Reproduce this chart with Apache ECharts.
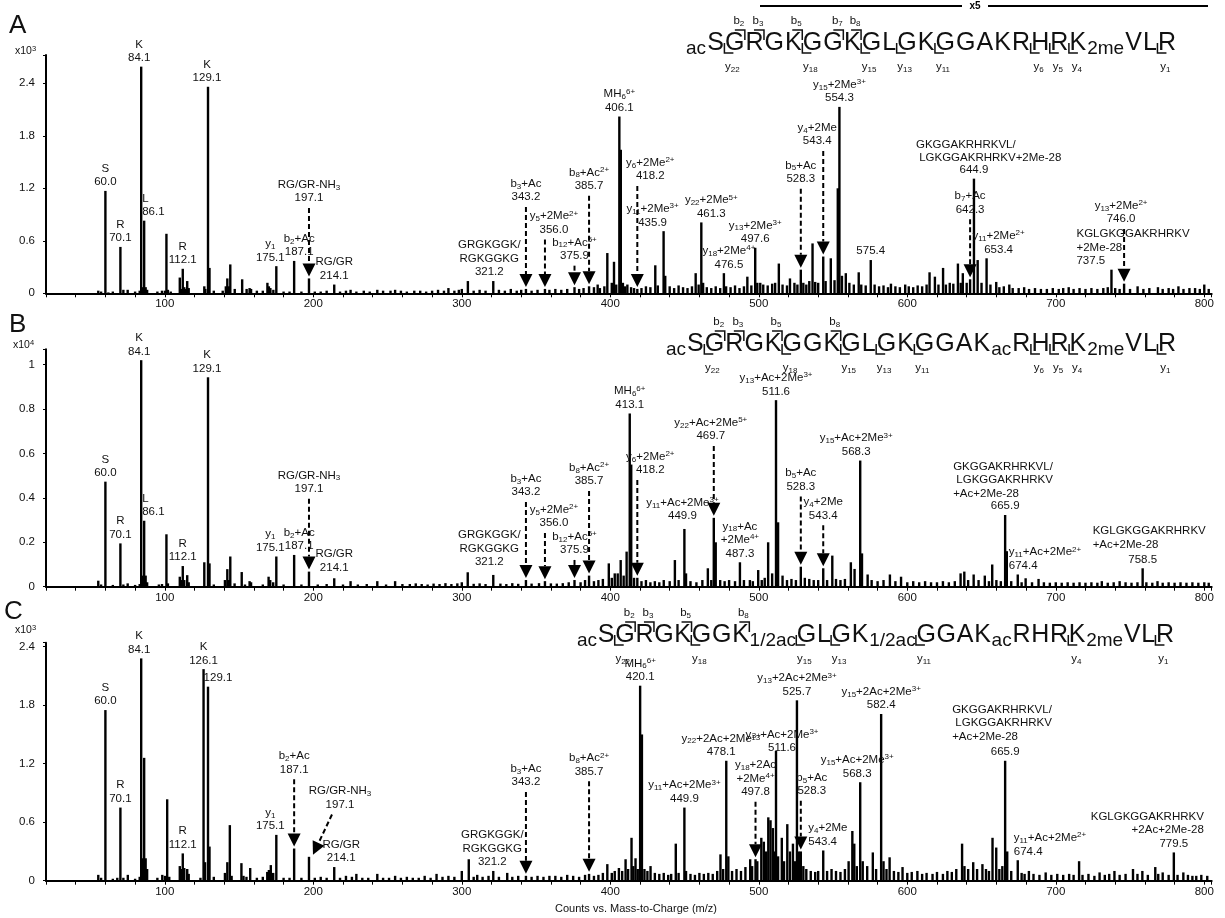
<!DOCTYPE html>
<html><head><meta charset="utf-8">
<script src="https://cdn.jsdelivr.net/npm/echarts@6/dist/echarts.min.js"></script>
<style>html,body{margin:0;padding:0;background:#fff}#c{width:1225px;height:918px}</style>
</head><body><div id="c"></div>
<script>
// ---------------- DATA ----------------
const mzTickLabels = [100, 200, 300, 400, 500, 600, 700, 800];
const yTicksA = [0, 0.6, 1.2, 1.8, 2.4];
const yTicksB = [0, 0.2, 0.4, 0.6, 0.8, 1];
const yTicksC = [0, 0.6, 1.2, 1.8, 2.4];
const yExpA = '3', yExpB = '4', yExpC = '3';
const panelNames = ['A', 'B', 'C'];
const xAxisTitle = 'Counts vs. Mass-to-Charge (m/z)';

// [m/z, intensity]  (A, C: x10^3 ; B: x10^4)
const peaksA = [
[55.2,0.03],[57.1,0.02],[60.0,1.17],[62,0.01],[65.0,0.02],[70.1,0.53],[72.1,0.04],[75.0,0.04],[80.0,0.02],[83.1,0.03],[84.1,2.59],[85.1,0.07],[86.1,0.83],[87.1,0.07],[88.1,0.04],[95,0.02],[98.1,0.03],[100.1,0.03],[101.1,0.68],[102.1,0.04],[104,0.02],[110.1,0.18],[111.1,0.05],[112.1,0.28],[113.1,0.07],[114.1,0.05],[115.1,0.14],[116.1,0.06],[126.6,0.08],[127.3,0.05],[129.1,2.36],[130.1,0.29],[133,0.03],[139,0.03],[141.1,0.08],[142.1,0.17],[143.1,0.08],[144.1,0.33],[147.1,0.05],[152.1,0.16],[155.1,0.05],[157.1,0.06],[158.1,0.05],[162,0.03],[166,0.03],[169.1,0.12],[170.1,0.08],[171.1,0.06],[173.1,0.04],[175.1,0.31],[180,0.02],[184,0.02],[187.1,0.37],[192,0.02],[197.1,0.17],[201,0.02],[205,0.02],[209,0.03],[214.1,0.10],[218,0.02],[222,0.03],[225.1,0.04],[229,0.02],[234,0.03],[238,0.02],[243.1,0.04],[247,0.03],[252,0.03],[255.1,0.04],[259,0.03],[263,0.02],[268,0.03],
[272,0.03],[276,0.02],[280,0.03],[284,0.04],[288,0.03],[291,0.06],[295,0.03],[298,0.04],[300,0.05],[304.1,0.14],[308,0.03],[312,0.04],[316,0.03],[321.2,0.14],[325,0.04],[329,0.03],[333,0.05],[337,0.03],[340,0.04],[343.2,0.05],[347,0.03],[351,0.04],[356.0,0.05],[359,0.04],[363,0.05],[367,0.04],[371,0.05],[375.9,0.07],[379,0.05],[382,0.06],[385.7,0.08],[389,0.07],[391.5,0.1],[393,0.06],[396,0.08],[398,0.46],[401,0.12],[402.5,0.36],[404,0.1],[406.1,2.02],[407.1,1.64],[408.5,0.12],[410,0.08],[411.5,0.1],[414,0.07],[416,0.06],[418.2,0.05],[421,0.06],[424,0.08],[427,0.07],[430.3,0.32],[432,0.09],[435.9,0.71],[437,0.2],[440,0.08],[443,0.06],[446,0.09],[449,0.07],[452,0.06],[455,0.08],[457.5,0.23],[459.5,0.1],[461.3,0.81],[462.5,0.12],[465,0.07],[468,0.06],[471,0.08],[474,0.06],[476.5,0.23],[478,0.08],[481,0.07],[484,0.09],[487,0.06],[490,0.08],[492.3,0.19],[495,0.09],[497.6,0.52],[499,0.12],
[501,0.12],[503,0.1],[506,0.09],[509,0.11],[511,0.12],[513.5,0.34],[516,0.1],[519,0.09],[521,0.17],[524,0.12],[526,0.1],[528.3,0.27],[530,0.12],[532,0.1],[534,0.14],[536.2,0.57],[538,0.13],[540,0.12],[543.4,0.42],[545,0.14],[548.5,0.4],[551,0.15],[553.2,1.2],[554.3,2.13],[556,0.2],[558.6,0.23],[561,0.12],[564,0.1],[567.3,0.24],[569,0.1],[572,0.09],[575.4,0.38],[578,0.1],[581,0.08],[584,0.09],[587,0.07],[589,0.11],[592,0.08],[595,0.07],[598.6,0.1],[601,0.08],[604,0.07],[607,0.09],[610,0.08],[613,0.1],[615,0.24],[618.6,0.19],[621,0.1],[624.1,0.29],[626,0.1],[628.6,0.12],[631,0.11],[634.1,0.34],[636,0.12],[637.4,0.23],[640,0.12],[642.3,0.16],[644.9,1.31],[647.4,0.38],[650,0.12],[653.4,0.4],[656,0.1],[659.9,0.13],[662,0.07],[665,0.08],[668.7,0.1],[671,0.06],[675,0.06],[678.7,0.07],[682,0.05],[686,0.06],[690,0.05],[694,0.05],[698,0.06],[702,0.05],[705,0.06],[708.7,0.07],[712,0.05],[716,0.06],[720,0.05],[724,0.06],[728,0.05],[732,0.06],[735,0.07],[737.5,0.27],[740,0.06],[743,0.05],[746.0,0.11],[750,0.05],[755.1,0.08],[759,0.05],[763,0.06],[768.8,0.07],[772,0.05],[776,0.06],[779,0.05],[782.6,0.08],[786,0.05],[790,0.06],[793.8,0.06],[797,0.05],[800,0.1],[803,0.05]
];
const peaksB = [
[55.2,0.027],[57.1,0.01],[60.0,0.473],[65,0.008],[70.1,0.195],[72.1,0.01],[75,0.015],[80,0.008],[83.1,0.012],[84.1,1.02],[85.1,0.05],[86.1,0.297],[87.1,0.05],[88.1,0.02],[96,0.01],[98.1,0.012],[101.1,0.236],[102.1,0.015],[110.1,0.045],[111.1,0.03],[112.1,0.093],[113.1,0.03],[115.1,0.052],[116.1,0.02],[126.6,0.11],[129.1,0.943],[130.1,0.105],[133,0.01],[140.5,0.03],[142.1,0.079],[143.1,0.03],[144.1,0.136],[147,0.015],[151.8,0.066],[154,0.01],[157.1,0.025],[158.1,0.02],[166,0.01],[169.9,0.045],[171,0.03],[173,0.02],[175.1,0.136],[180,0.01],[187.1,0.143],[192,0.01],[197.1,0.068],[203,0.01],[209,0.012],[214.1,0.038],[220,0.01],[225.1,0.025],[230,0.01],[236,0.012],[243.1,0.025],[249,0.01],[255.1,0.025],[260,0.012],[265,0.012],[269,0.015],
[273,0.012],[277,0.01],[281,0.014],[285,0.012],[289,0.016],[293,0.012],[297,0.015],[300,0.02],[304,0.065],[308,0.013],[312,0.015],[316,0.012],[321.2,0.053],[326,0.014],[330,0.012],[334,0.016],[338,0.013],[343.2,0.03],[347,0.014],[352,0.016],[356.0,0.025],[360,0.015],[364,0.014],[368,0.016],[372,0.02],[375.9,0.03],[380,0.02],[383,0.03],[385.7,0.05],[389,0.025],[392,0.03],[395,0.035],[399,0.105],[401,0.04],[403,0.06],[405,0.06],[407,0.12],[409,0.05],[411,0.158],[413.1,0.78],[414.1,0.55],[416,0.04],[418.2,0.04],[421,0.025],[424,0.03],[427,0.02],[430,0.025],[433,0.02],[436,0.03],[440,0.025],[443.5,0.12],[446,0.03],[449.9,0.26],[451,0.06],[454,0.025],[458,0.02],[462,0.03],[465.7,0.083],[468,0.03],[469.7,0.31],[471,0.2],[474,0.03],[477,0.025],[480,0.03],[484,0.025],[487.3,0.11],[490,0.03],[494,0.03],[496,0.025],[499.6,0.075],[502,0.03],[504,0.04],[506.3,0.2],[509,0.06],[511.6,0.84],[513,0.29],[516,0.05],[519,0.03],[522,0.035],[525,0.03],[528.3,0.09],[531,0.04],[534,0.035],[537,0.03],[540,0.03],[543.4,0.083],[546,0.03],[549.5,0.14],[552,0.035],[555,0.03],[558,0.035],[562,0.11],[564.5,0.08],[568.3,0.568],[569.5,0.15],[573.3,0.055],[576,0.03],[580,0.025],[584,0.03],[588.3,0.055],[592,0.025],[595.8,0.045],[600,0.02],[604,0.025],[608,0.02],[612,0.025],[616,0.02],[620,0.02],[624,0.025],[628,0.02],[632,0.025],[635.9,0.06],[638.4,0.068],[641,0.03],[644.7,0.055],[648,0.03],[652.2,0.05],[655,0.025],[657.2,0.1],[660,0.03],[663,0.025],[665.9,0.323],[667,0.16],[670,0.025],[674.4,0.055],[677,0.02],[679.7,0.038],[684,0.02],[688.4,0.035],[692,0.02],[696,0.018],[700,0.02],[704,0.018],[708,0.02],[712,0.018],[716,0.02],[720,0.018],[724,0.02],[728,0.018],[731,0.025],[735,0.018],[739,0.02],[743,0.025],[747,0.02],[751,0.018],[755,0.02],[758.5,0.083],[761,0.02],[765,0.018],[768.5,0.025],[772,0.018],[776,0.02],[780,0.018],[784,0.02],[788,0.018],[792,0.02],[796,0.018],[800,0.02],[803,0.018]
];
const peaksC = [
[55.2,0.06],[57.1,0.03],[60.0,1.75],[65,0.02],[68,0.03],[70.1,0.75],[72.1,0.03],[75.1,0.06],[80,0.02],[83.1,0.04],[84.1,2.28],[85.1,0.23],[86.1,1.26],[87.1,0.23],[88.1,0.12],[95,0.03],[98.3,0.06],[100.1,0.05],[101.6,0.835],[103,0.04],[110.1,0.15],[111.1,0.12],[112.1,0.28],[113.1,0.13],[115.1,0.12],[116.1,0.07],[124,0.03],[126.1,2.17],[127.1,0.19],[129.1,1.99],[130.1,0.35],[133,0.04],[140.5,0.08],[142.1,0.19],[143.8,0.57],[145,0.05],[151.6,0.18],[153,0.05],[155,0.04],[157.5,0.13],[162,0.03],[166,0.04],[169,0.09],[170.1,0.11],[171.4,0.16],[173,0.08],[175.1,0.47],[180,0.03],[184,0.03],[187.1,0.33],[192,0.03],[197.1,0.245],[201,0.03],[205,0.04],[209,0.03],[214.1,0.14],[218,0.03],[222,0.05],[226,0.04],[229,0.07],[233,0.03],[237,0.03],[243.1,0.07],[247,0.03],[251,0.03],[255.1,0.05],[259,0.03],[263,0.04],[267,0.03],
[271,0.03],[275,0.05],[279,0.03],[283,0.07],[287,0.04],[291,0.05],[295,0.04],[300,0.1],[304.7,0.22],[308,0.04],[310.4,0.06],[314,0.04],[318,0.05],[321.2,0.1],[325,0.04],[330.6,0.08],[334,0.04],[338,0.05],[343.2,0.05],[347,0.04],[351,0.05],[355,0.04],[359,0.05],[363,0.05],[367,0.04],[371,0.06],[375,0.05],[379,0.04],[383,0.06],[385.7,0.07],[389,0.05],[392,0.06],[395,0.08],[398,0.17],[401,0.08],[403,0.1],[405.8,0.13],[408,0.1],[410.3,0.22],[412,0.12],[414.3,0.44],[415.5,0.15],[417,0.23],[418.5,0.12],[420.1,2.0],[421.3,1.5],[423,0.12],[425,0.1],[427.1,0.15],[430,0.08],[433,0.07],[436,0.08],[439,0.06],[441,0.07],[444.1,0.38],[446,0.08],[449.9,0.75],[451,0.1],[454,0.07],[457,0.06],[460,0.08],[463,0.07],[466,0.08],[469,0.07],[472,0.1],[474.2,0.27],[476,0.12],[478.1,1.23],[479.5,0.25],[482,0.1],[485,0.12],[488,0.1],[491,0.14],[494.2,0.22],[495.5,0.15],[497.8,0.22],[499,0.2],[501.7,0.44],[503.4,0.4],[505,0.3],[506.4,0.65],[507.9,0.62],[509.5,0.54],[510.5,0.3],[511.6,1.33],[513,0.25],[515.5,0.44],[517,0.2],[519.2,0.58],[521,0.3],[523,0.38],[524.5,0.2],[525.7,1.85],[527,0.3],[528.3,0.3],[530,0.15],[532,0.12],[535,0.1],[538,0.09],[540,0.1],[543.4,0.31],[546,0.1],[549,0.12],[552,0.1],[555,0.09],[558,0.12],[560.5,0.2],[563,0.51],[564.3,0.38],[566,0.15],[568.3,1.01],[570,0.2],[573,0.15],[576.8,0.29],[579,0.12],[582.4,1.71],[584,0.2],[586,0.12],[588.1,0.24],[591,0.1],[594,0.09],[596.8,0.14],[600,0.08],[603,0.09],[606.8,0.1],[610,0.07],[613,0.08],[617,0.07],[620,0.09],[624,0.07],[627,0.1],[630,0.09],[633,0.12],[636.9,0.38],[638.5,0.15],[641,0.12],[644.4,0.19],[647,0.12],[650.6,0.17],[653,0.12],[655,0.1],[657.4,0.44],[659.9,0.34],[662,0.12],[664,0.15],[665.9,1.23],[667.3,0.3],[670,0.1],[674.4,0.21],[677,0.08],[679,0.07],[681.9,0.1],[685,0.07],[689,0.06],[693.2,0.085],[697,0.06],[701,0.07],[705,0.06],[709,0.07],[712,0.06],[715.7,0.2],[718,0.06],[722,0.07],[726,0.05],[729.5,0.085],[733,0.06],[736,0.07],[739.5,0.1],[743,0.06],[747,0.07],[752,0.12],[755,0.07],[758.3,0.1],[762,0.06],[767,0.14],[769,0.07],[772,0.085],[776,0.06],[779.5,0.29],[782,0.06],[785.9,0.085],[789,0.06],[792,0.05],[794.6,0.05],[798,0.06],[802,0.05]
];

// annotations: m = m/z of the peak, t = text, lv = intensity at label bottom (else on peak top)
const annA = [
{m:60.0,t:'S\n60.0'},{m:70.1,t:'R\n70.1'},{m:84.1,t:'K\n84.1',dx:-2},{m:86.1,t:'L\n86.1',al:'left',dx:-2},
{m:112.1,t:'R\n112.1'},{m:129.1,t:'K\n129.1',dx:-1},{m:175.1,t:'y_{1}\n175.1',dx:-6},{m:187.1,t:'b_{2}+Ac\n187.1',dx:5},
{m:197.1,t:'RG/GR-NH_{3}\n197.1',lv:1.01,arrow:1},{m:214.1,t:'RG/GR\n214.1'},
{m:321.2,t:'GRGKGGK/\nRGKGGKG\n321.2',dx:-4},
{m:343.2,t:'b_{3}+Ac\n343.2',lv:1.02,arrow:1},{m:356.0,t:'y_{5}+2Me^{2+}\n356.0',lv:0.65,dx:9,arrow:1},
{m:375.9,t:'b_{12}+Ac^{5+}\n375.9',lv:0.35,arrow:1},{m:385.7,t:'b_{8}+Ac^{2+}\n385.7',lv:1.15,arrow:1},
{m:406.1,t:'MH_{6}^{6+}\n406.1'},{m:418.2,t:'y_{6}+2Me^{2+}\n418.2',lv:1.26,dx:13,arrow:1},
{m:435.9,t:'y_{11}+2Me^{3+}\n435.9',dx:-11},{m:461.3,t:'y_{22}+2Me^{5+}\n461.3',dx:10},
{m:476.5,t:'y_{18}+2Me^{4+}\n476.5',dx:5},{m:497.6,t:'y_{13}+2Me^{3+}\n497.6'},
{m:528.3,t:'b_{5}+Ac\n528.3',lv:1.23,arrow:1},{m:543.4,t:'y_{4}+2Me\n543.4',lv:1.66,dx:-6,arrow:1},
{m:554.3,t:'y_{15}+2Me^{3+}\n554.3'},{m:575.4,t:'575.4'},
{m:642.3,t:'b_{7}+Ac\n642.3',lv:0.88,arrow:1},
{m:644.9,t:'GKGGAKRHRKVL/\n LGKGGAKRHRKV+2Me-28',lv:1.47,al:'left',dx:-58},{m:644.9,t:'644.9'},
{m:653.4,t:'y_{11}+2Me^{2+}\n653.4',dx:12},
{m:746.0,t:'y_{13}+2Me^{2+}\n746.0',lv:0.77,dx:-3,arrow:1},
{m:737.5,t:'KGLGKGGAKRHRKV\n+2Me-28\n737.5',al:'left',dx:-35}
];
const annB = [
{m:60.0,t:'S\n60.0'},{m:70.1,t:'R\n70.1'},{m:84.1,t:'K\n84.1',dx:-2},{m:86.1,t:'L\n86.1',al:'left',dx:-2},
{m:112.1,t:'R\n112.1'},{m:129.1,t:'K\n129.1',dx:-1},{m:175.1,t:'y_{1}\n175.1',dx:-6},{m:187.1,t:'b_{2}+Ac\n187.1',dx:5},
{m:197.1,t:'RG/GR-NH_{3}\n197.1',lv:0.41,arrow:1},{m:214.1,t:'RG/GR\n214.1',lv:0.055},
{m:321.2,t:'GRGKGGK/\nRGKGGKG\n321.2',dx:-4,lv:0.08},
{m:343.2,t:'b_{3}+Ac\n343.2',lv:0.395,arrow:1},{m:356.0,t:'y_{5}+2Me^{2+}\n356.0',lv:0.255,dx:9,arrow:1},
{m:375.9,t:'b_{12}+Ac^{5+}\n375.9',lv:0.134,arrow:1},{m:385.7,t:'b_{8}+Ac^{2+}\n385.7',lv:0.445,arrow:1},
{m:413.1,t:'MH_{6}^{6+}\n413.1'},{m:418.2,t:'y_{6}+2Me^{2+}\n418.2',lv:0.494,dx:13,arrow:1},
{m:449.9,t:'y_{11}+Ac+2Me^{3+}\n449.9',dx:-2,lv:0.287},
{m:469.7,t:'y_{22}+Ac+2Me^{5+}\n469.7',lv:0.647,dx:-3,arrow:1},
{m:487.3,t:'y_{18}+Ac\n+2Me^{4+}\n487.3'},{m:511.6,t:'y_{13}+Ac+2Me^{3+}\n511.6'},
{m:528.3,t:'b_{5}+Ac\n528.3',lv:0.42,arrow:1},{m:543.4,t:'y_{4}+2Me\n543.4',lv:0.29,arrow:1},
{m:568.3,t:'y_{15}+Ac+2Me^{3+}\n568.3',dx:-4},
{m:665.9,t:'GKGGAKRHRKVL/\n LGKGGAKRHRKV\n+Ac+2Me-28',lv:0.39,al:'left',dx:-52},{m:665.9,t:'665.9'},
{m:674.4,t:'y_{11}+Ac+2Me^{2+}\n674.4',al:'left',dx:-9},
{m:758.5,t:'KGLGKGGAKRHRKV\n+Ac+2Me-28',lv:0.16,al:'left',dx:-50},{m:758.5,t:'758.5'}
];
const annC = [
{m:60.0,t:'S\n60.0'},{m:70.1,t:'R\n70.1'},{m:84.1,t:'K\n84.1',dx:-2},{m:112.1,t:'R\n112.1'},
{m:126.1,t:'K\n126.1'},{m:129.1,t:'129.1',dx:10},{m:175.1,t:'y_{1}\n175.1',dx:-6},
{m:187.1,t:'b_{2}+Ac\n187.1',lv:1.07,arrow:1},
{m:197.1,t:'RG/GR-NH_{3}\n197.1',lv:0.71,dx:31,arrow:1,ax:23,tx:4},
{m:214.1,t:'RG/GR\n214.1',dx:7},
{m:321.2,t:'GRGKGGK/\nRGKGGKG\n321.2',dx:-1},
{m:343.2,t:'b_{3}+Ac\n343.2',lv:0.94,arrow:1},{m:385.7,t:'b_{8}+Ac^{2+}\n385.7',lv:1.05,arrow:1},
{m:420.1,t:'MH_{6}^{6+}\n420.1'},{m:449.9,t:'y_{11}+Ac+2Me^{3+}\n449.9'},
{m:478.1,t:'y_{22}+2Ac+2Me^{3+}\n478.1',dx:-5},
{m:497.8,t:'y_{18}+2Ac\n+2Me^{4+}\n497.8',lv:0.84,arrow:1},
{m:511.6,t:'y_{13}+Ac+2Me^{3+}\n511.6',lv:1.29,dx:6},
{m:525.7,t:'y_{13}+2Ac+2Me^{3+}\n525.7'},
{m:528.3,t:'b_{5}+Ac\n528.3',lv:0.85,dx:11,arrow:1},
{m:543.4,t:'y_{4}+2Me\n543.4',al:'left',dx:-15},
{m:568.3,t:'y_{15}+Ac+2Me^{3+}\n568.3',dx:-3},{m:582.4,t:'y_{15}+2Ac+2Me^{3+}\n582.4'},
{m:665.9,t:'GKGGAKRHRKVL/\n LGKGGAKRHRKV\n+Ac+2Me-28',lv:1.41,al:'left',dx:-53},{m:665.9,t:'665.9'},
{m:674.4,t:'y_{11}+Ac+2Me^{2+}\n674.4',al:'left',dx:-4},
{m:779.5,t:'KGLGKGGAKRHRKV\n+2Ac+2Me-28',lv:0.45,al:'right',dx:30},{m:779.5,t:'779.5'}
];

// peptide sequences: {..} = modification subscript
const seqA = '{ac}SGRGKGGKGLGKGGAKRHRK{2me}VLR';
const seqB = '{ac}SGRGKGGKGLGKGGAK{ac}RHRK{2me}VLR';
const seqC = '{ac}SGRGKGGK{1/2ac}GLGK{1/2ac}GGAK{ac}RHRK{2me}VLR';
const bIonsA = [2,3,5,7,8], yIonsA = [22,18,15,13,11,6,5,4,1];
const bIonsB = [2,3,5,8],   yIonsB = [22,18,15,13,11,6,5,4,1];
const bIonsC = [2,3,5,8],   yIonsC = [22,18,15,13,11,4,1];
const magnifyLabel = 'x5';

// ---------------- LAYOUT ----------------
const FONT = 'Liberation Sans, Arial, Helvetica, sans-serif';
const L = {
  left: 46, width: 1165.7, xMin: 20, xMax: 805,
  grids: [{top:55, height:238.3, yMax:2.723, yInt:0.6},
          {top:349.3, height:237.4, yMax:1.069, yInt:0.2},
          {top:642.7, height:238, yMax:2.441, yInt:0.6}],
  letters: [{x:9,y:26},{x:9,y:325},{x:4,y:612}],
  exps: [{x:15,y:51},{x:13,y:345},{x:15,y:630}],
  seq: [{x0:686,x1:1176,base:52},{x0:666,x1:1176,base:353},{x0:577,x1:1174,base:644}],
  mag: {y:6, x0:760, x1:1208, tx:975}
};

const panels = [
  {peaks:peaksA, ann:annA, yTicks:yTicksA, exp:yExpA, seq:seqA, b:bIonsA, y:yIonsA},
  {peaks:peaksB, ann:annB, yTicks:yTicksB, exp:yExpB, seq:seqB, b:bIonsB, y:yIonsB},
  {peaks:peaksC, ann:annC, yTicks:yTicksC, exp:yExpC, seq:seqC, b:bIonsC, y:yIonsC}
];

const RICH = {
  s: {fontSize: 8, lineHeight: 6, verticalAlign: 'bottom', fontFamily: FONT, fill:'#111'},
  p: {fontSize: 8, lineHeight: 6, verticalAlign: 'top', fontFamily: FONT, fill:'#111'}
};
function rt(s){ return s.replace(/_\{([^}]*)\}/g,'{s|$1}').replace(/\^\{([^}]*)\}/g,'{p|$1}'); }
function peakAt(peaks, m){
  let best = null, bd = 1e9;
  for (const p of peaks){ const d = Math.abs(p[0]-m); if (d < bd){ bd = d; best = p; } }
  return bd < 1.0 ? best[1] : 0;
}
function near(v, arr){ return arr.some(a => Math.abs(a - v) < 1e-6); }

// ---------------- OPTION ----------------
const grid = [], xAxis = [], yAxis = [], series = [];
panels.forEach((P, i) => {
  const G = L.grids[i];
  grid.push({left:L.left, top:G.top, width:L.width, height:G.height, outerBoundsMode:'none', containLabel:false});
  xAxis.push({gridIndex:i, type:'value', min:L.xMin, max:L.xMax, interval:20,
    axisLine:{show:true, onZero:false, lineStyle:{color:'#000', width:2}},
    axisTick:{show:true, length:4, lineStyle:{color:'#000', width:1}},
    splitLine:{show:false},
    axisLabel:{show:true, margin:5, color:'#111', fontSize:11.5, fontFamily:FONT,
      formatter: v => near(v, mzTickLabels) ? String(Math.round(v)) : ''}
  });
  yAxis.push({gridIndex:i, type:'value', min:0, max:G.yMax, interval:G.yInt,
    axisLine:{show:true, onZero:false, lineStyle:{color:'#000', width:2}},
    axisTick:{show:true, length:3, lineStyle:{color:'#000', width:1}},
    splitLine:{show:false},
    axisLabel:{show:true, margin:11, color:'#111', fontSize:11.5, fontFamily:FONT,
      formatter: v => near(v, P.yTicks) ? String(Math.round(v*10)/10) : ''}
  });
  series.push({
    type:'custom', xAxisIndex:i, yAxisIndex:i, coordinateSystem:'cartesian2d',
    data: P.peaks, encode:{x:0, y:1}, silent:true, z:3,
    renderItem(params, api){
      const a = api.coord([api.value(0), 0]);
      const b = api.coord([api.value(0), api.value(1)]);
      return {type:'line', shape:{x1:a[0], y1:a[1], x2:b[0], y2:b[1]},
              style:{stroke:'#000', lineWidth:2.4}};
    }
  });
  series.push({
    type:'custom', xAxisIndex:i, yAxisIndex:i, coordinateSystem:'cartesian2d',
    data: P.ann.map((a, k) => [a.m, 0, k]), encode:{x:0, y:1}, silent:true, z:5, clip:false,
    renderItem(params, api){
      const a = P.ann[api.value(2)];
      const pk = peakAt(P.peaks, a.m);
      const top = api.coord([a.m, pk]);
      const labY = a.lv != null ? api.coord([a.m, a.lv])[1] : top[1] - 2;
      const x = top[0] + (a.dx || 0);
      const ch = [{type:'text', x:x, y:labY, style:{text: rt(a.t), rich: RICH, fontSize:11.5, fontFamily:FONT,
        fill:'#111', align: a.al || 'center', verticalAlign:'bottom', lineHeight:13.5}}];
      if (a.arrow){
        const sx = top[0] + (a.ax || 0), sy = labY + 3;
        const tx = top[0] + (a.tx || 0), ty = top[1] - 2;
        const dx = tx - sx, dy = ty - sy, len = Math.sqrt(dx*dx + dy*dy);
        const ux = dx/len, uy = dy/len, h = 13, w = 6.5;
        const bx = tx - ux*h, by = ty - uy*h;
        ch.push({type:'line', shape:{x1:sx, y1:sy, x2:bx, y2:by},
                 style:{stroke:'#000', lineWidth:2, lineDash:[5,3]}});
        ch.push({type:'polygon', shape:{points:[[tx,ty],[bx - uy*w, by + ux*w],[bx + uy*w, by - ux*w]]},
                 style:{fill:'#000'}});
      }
      return {type:'group', children: ch};
    }
  });
});

// ---------------- GRAPHIC (letters, exponents, sequences) ----------------
const graphic = [];
const cv = document.createElement('canvas').getContext('2d');
function tw(t, fs){ cv.font = fs + 'px "Liberation Sans", Arial, sans-serif'; return cv.measureText(t).width; }

panels.forEach((P, i) => {
  graphic.push({type:'text', x:L.letters[i].x, y:L.letters[i].y,
    style:{text:panelNames[i], fontSize:26, fontFamily:FONT, fill:'#111', align:'left', verticalAlign:'middle'}});
  graphic.push({type:'text', x:L.exps[i].x, y:L.exps[i].y,
    style:{text:'x10{p|' + P.exp + '}', rich:{p:{fontSize:7.5, lineHeight:5, verticalAlign:'top', fontFamily:FONT, fill:'#111'}},
      fontSize:10.5, lineHeight:12, fontFamily:FONT, fill:'#111', align:'left', verticalAlign:'middle'}});

  // sequence
  const S = L.seq[i], BIG = 25, SUB = 19;
  const items = [];
  const re = /\{([^}]*)\}|([A-Z])/g; let mm;
  while ((mm = re.exec(P.seq))){ if (mm[1] != null) items.push({sub:mm[1]}); else items.push({ch:mm[2]}); }
  items.forEach(it => { it.w = it.ch ? tw(it.ch, BIG) : tw(it.sub, SUB); });
  const nat = items.reduce((s, it) => s + it.w, 0);
  const gap = Math.max(-1, (S.x1 - S.x0 - nat) / (items.length - 1));
  let cx = S.x0; const resL = [], resR = [];
  items.forEach(it => {
    if (it.ch){
      resL.push(cx); resR.push(cx + it.w);
      graphic.push({type:'text', x:cx, y:S.base - 0.3465*BIG,
        style:{text:it.ch, fontSize:BIG, fontFamily:FONT, fill:'#111', align:'left', verticalAlign:'middle'}});
    } else {
      graphic.push({type:'text', x:cx, y:S.base + 3 - 0.3465*SUB,
        style:{text:it.sub, fontSize:SUB, fontFamily:FONT, fill:'#111', align:'left', verticalAlign:'middle'}});
    }
    cx += it.w + gap;
  });
  const nRes = resL.length;
  P.b.forEach(n => {
    const xb = resR[n-1] + 0.5;
    graphic.push({type:'polyline', shape:{points:[[xb-10, S.base-22],[xb, S.base-22],[xb, S.base-12]]},
      style:{stroke:'#111', lineWidth:1.5, fill:null}});
    graphic.push({type:'text', x:xb-6, y:S.base-31,
      style:{text:'b{s|' + n + '}', rich:RICH, fontSize:11.5, lineHeight:13, fontFamily:FONT, fill:'#111', align:'center', verticalAlign:'middle'}});
  });
  P.y.forEach(n => {
    const xb = resL[nRes - n] - 0.5;
    graphic.push({type:'polyline', shape:{points:[[xb, S.base-9],[xb, S.base+1],[xb+9, S.base+1]]},
      style:{stroke:'#111', lineWidth:1.5, fill:null}});
    graphic.push({type:'text', x:xb+8, y:S.base+15,
      style:{text:'y{s|' + n + '}', rich:RICH, fontSize:11.5, lineHeight:13, fontFamily:FONT, fill:'#111', align:'center', verticalAlign:'middle'}});
  });
});
// magnification bar in panel A
graphic.push({type:'line', shape:{x1:L.mag.x0, y1:L.mag.y, x2:L.mag.tx-13, y2:L.mag.y}, style:{stroke:'#000', lineWidth:2}});
graphic.push({type:'line', shape:{x1:L.mag.tx+13, y1:L.mag.y, x2:L.mag.x1, y2:L.mag.y}, style:{stroke:'#000', lineWidth:2}});
graphic.push({type:'text', x:L.mag.tx, y:L.mag.y, style:{text:magnifyLabel, fontSize:10, fontWeight:'bold', fontFamily:FONT, fill:'#000', align:'center', verticalAlign:'middle'}});
// x axis title
graphic.push({type:'text', x:636, y:909, style:{text:xAxisTitle, fontSize:11, fontFamily:FONT, fill:'#111', align:'center', verticalAlign:'middle'}});

const chart = echarts.init(document.getElementById('c'), null, {renderer:'canvas'});
chart.setOption({backgroundColor:'#fff', animation:false, grid, xAxis, yAxis, series, graphic});
</script></body></html>
